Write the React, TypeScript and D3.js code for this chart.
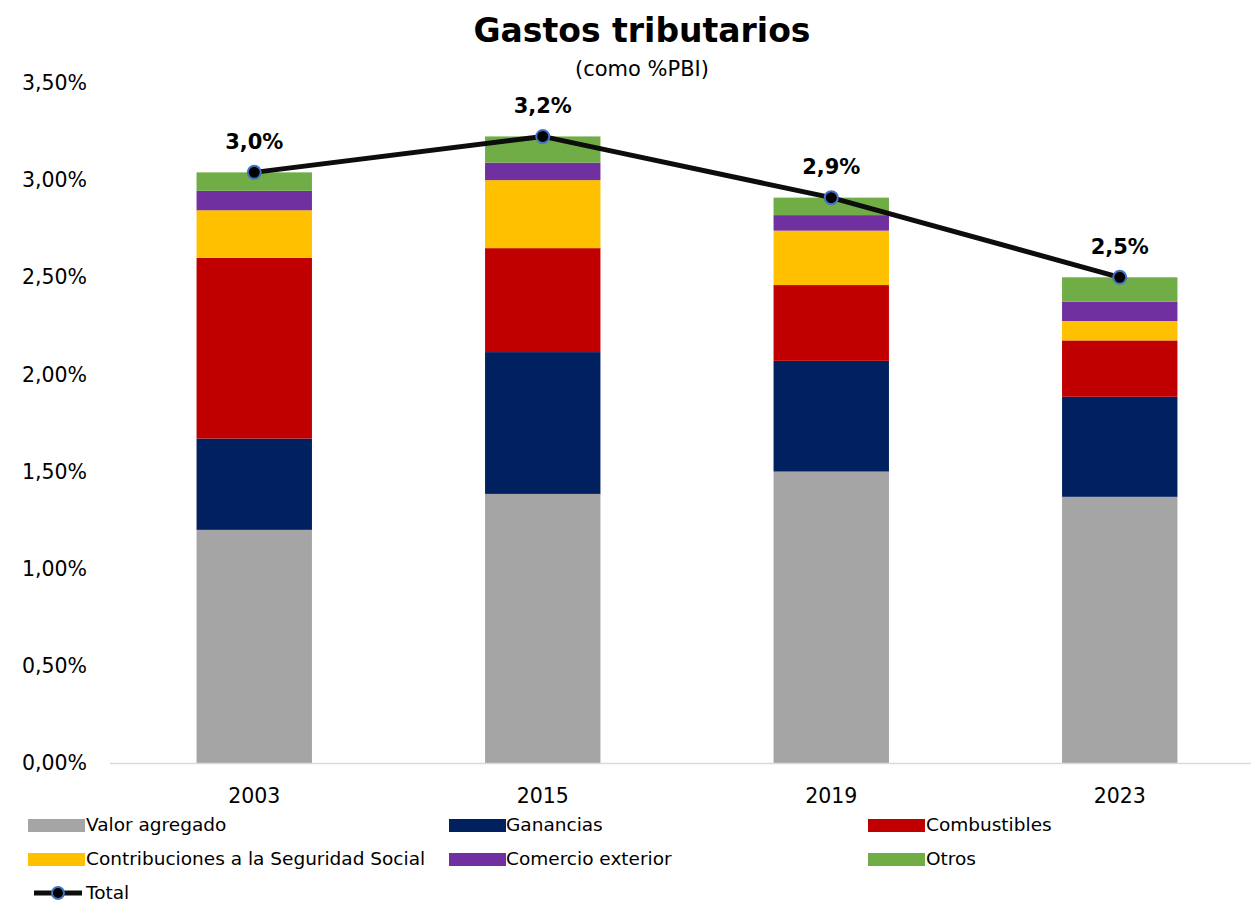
import React from "react";
import * as d3 from "d3";

const years = ["2003", "2015", "2019", "2023"];
const seriesNames = [
  "Valor agregado",
  "Ganancias",
  "Combustibles",
  "Contribuciones a la Seguridad Social",
  "Comercio exterior",
  "Otros",
];
const seriesColors = ["#A5A5A5", "#002060", "#C00000", "#FFC000", "#7030A0", "#70AD47"];
const valorAgregado = [1.2, 1.385, 1.5, 1.37];
const ganancias = [0.47, 0.73, 0.57, 0.515];
const combustibles = [0.93, 0.535, 0.39, 0.29];
const contribuciones = [0.245, 0.35, 0.28, 0.1];
const comercioExterior = [0.1, 0.09, 0.08, 0.1];
const otros = [0.095, 0.135, 0.09, 0.125];
const totalLabels = ["3,0%", "3,2%", "2,9%", "2,5%"];
const yTicks = [0, 0.5, 1, 1.5, 2, 2.5, 3, 3.5];

const FONT = "Tahoma, 'DejaVu Sans', sans-serif";

export default function App() {
  const W = 1251, H = 904;
  const series = [valorAgregado, ganancias, combustibles, contribuciones, comercioExterior, otros];
  const rows = years.map((y, i) => {
    const r: any = { year: y };
    seriesNames.forEach((n, k) => (r[n] = series[k][i]));
    return r;
  });
  const stacked = d3.stack<any>().keys(seriesNames)(rows);
  const totals = years.map((_, i) => d3.sum(series, (s) => s[i]));

  const x = d3.scaleBand().domain(years).range([110, 1264]).paddingInner(0.6).paddingOuter(0.3);
  const y = d3.scaleLinear().domain([0, 3.5]).range([763, 83]);
  const cx = (yr: string) => (x(yr) as number) + x.bandwidth() / 2;
  const line = d3.line<number>().x((_, i) => cx(years[i])).y((v) => y(v));
  const fmt = (v: number) => v.toFixed(2).replace(".", ",") + "%";

  const legendItems = [
    { name: seriesNames[0], color: seriesColors[0], sx: 28, tx: 86, ty: 825 },
    { name: seriesNames[1], color: seriesColors[1], sx: 449, tx: 506, ty: 825 },
    { name: seriesNames[2], color: seriesColors[2], sx: 868, tx: 926, ty: 825 },
    { name: seriesNames[3], color: seriesColors[3], sx: 28, tx: 86, ty: 859 },
    { name: seriesNames[4], color: seriesColors[4], sx: 449, tx: 506, ty: 859 },
    { name: seriesNames[5], color: seriesColors[5], sx: 868, tx: 926, ty: 859 },
  ];

  return (
    <svg width={W} height={H} style={{ position: "absolute", left: 0, top: 0, background: "#fff" }} fontFamily={FONT}>
      <text x={642} y={42} textAnchor="middle" fontSize={33} fontWeight="bold">Gastos tributarios</text>
      <text x={642} y={76} textAnchor="middle" fontSize={21}>(como %PBI)</text>
      {yTicks.map((t) => (
        <text key={t} x={87} y={y(t)} dy="0.35em" textAnchor="end" fontSize={20.5}>{fmt(t)}</text>
      ))}
      {stacked.map((layer, k) => (
        <g key={k} fill={seriesColors[k]}>
          {layer.map((d, i) => (
            <rect key={i} x={x(years[i])} width={x.bandwidth()} y={y(d[1])} height={y(d[0]) - y(d[1])} />
          ))}
        </g>
      ))}
      <line x1={110} x2={1251} y1={763.5} y2={763.5} stroke="#D9D9D9" strokeWidth={1.5} />
      {years.map((yr) => (
        <text key={yr} x={cx(yr)} y={796} dy="0.35em" textAnchor="middle" fontSize={20.5}>{yr}</text>
      ))}
      <path d={line(totals) || ""} fill="none" stroke="#0D0D0D" strokeWidth={5} />
      {totals.map((v, i) => (
        <g key={i}>
          <circle cx={cx(years[i])} cy={y(v)} r={6.5} fill="#000" stroke="#4472C4" strokeWidth={2} />
          <text x={cx(years[i])} y={y(v) - 31} dy="0.35em" textAnchor="middle" fontSize={21} fontWeight="bold">{totalLabels[i]}</text>
        </g>
      ))}
      {legendItems.map((l) => (
        <g key={l.name}>
          <rect x={l.sx} y={l.ty - 6} width={57} height={13} fill={l.color} />
          <text x={l.tx} y={l.ty} dy="0.35em" fontSize={18.5}>{l.name}</text>
        </g>
      ))}
      <line x1={34} x2={82} y1={893} y2={893} stroke="#0D0D0D" strokeWidth={5} />
      <circle cx={58} cy={893} r={6} fill="#000" stroke="#4472C4" strokeWidth={2} />
      <text x={86} y={893} dy="0.35em" fontSize={18.5}>Total</text>
    </svg>
  );
}
